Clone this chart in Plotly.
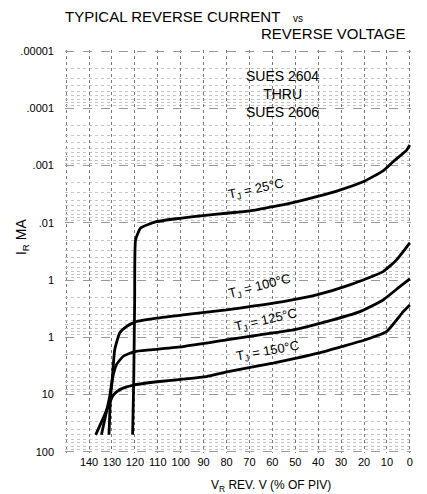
import plotly.graph_objects as go

# ---- data (x = reverse voltage, % of PIV; y = reverse current, mA)
x_25 = [121.0, 120.5, 120.1, 119.7, 117.5, 110.6, 100.4, 90.3, 80.1, 69.9, 59.7, 51.0, 40.7, 30.6, 20.4, 11.7, 7.3, 1.4, 0.0]
i_25 = [50, 5.5, 0.222, 0.0199, 0.0123, 0.00953, 0.00832, 0.00748, 0.00679, 0.00619, 0.00521, 0.00443, 0.00349, 0.00267, 0.00191, 0.00123, 0.000855, 0.000535, 0.000436]

x_100 = [131.3, 130.7, 129.8, 128.8, 126.6, 123.7, 119.7, 110.6, 99.0, 80.0, 69.9, 55.3, 40.7, 26.2, 11.7, 5.8, 0.0]
i_100 = [50.4, 12.3, 4.83, 1.65, 0.834, 0.649, 0.536, 0.462, 0.404, 0.331, 0.290, 0.237, 0.181, 0.121, 0.0711, 0.0443, 0.0224]

x_125 = [134.6, 131.0, 129.6, 128.1, 125.2, 120.1, 113.5, 99.0, 80.0, 65.5, 50.9, 36.4, 21.8, 11.7, 4.4, 0.0]
i_125 = [50.4, 10.8, 4.83, 3.02, 2.16, 1.77, 1.65, 1.45, 1.11, 0.903, 0.739, 0.530, 0.355, 0.222, 0.130, 0.0953]

x_150 = [137.1, 133.2, 129.6, 128.0, 125.2, 120.1, 109.2, 99.0, 88.8, 79.3, 69.1, 59.7, 49.5, 40.0, 29.8, 19.7, 10.2, 2.9, 0.0]
i_150 = [50.4, 22.5, 10.5, 8.93, 7.71, 6.75, 5.90, 5.36, 4.83, 3.95, 3.31, 2.82, 2.31, 1.89, 1.45, 1.11, 0.793, 0.355, 0.271]

x_ticks = [140, 130, 120, 110, 100, 90, 80, 70, 60, 50, 40, 30, 20, 10, 0]
y_ticks = [0.00001, 0.0001, 0.001, 0.01, 0.1, 1, 10, 100]
y_tick_text = [".00001", ".0001", ".001", ".01", "1", "1", "10", "100"]

curve_labels = ["T<sub>J</sub> = 25°C", "T<sub>J</sub> = 100°C", "T<sub>J</sub> = 125°C", "T<sub>J</sub> = 150°C"]

FONT = "Liberation Sans, Arial, sans-serif"

fig = go.Figure()
for xs, ys in [(x_25, i_25), (x_100, i_100), (x_125, i_125), (x_150, i_150)]:
    fig.add_trace(go.Scatter(x=xs, y=ys, mode="lines",
                             line=dict(color="black", width=2.8, shape="spline", smoothing=0.45),
                             showlegend=False, hoverinfo="skip"))

minor_vals = [m * 10 ** e for e in range(-5, 2) for m in range(2, 10)]

fig.update_layout(
    width=427, height=494,
    margin=dict(l=65, r=16, t=50, b=41),
    paper_bgcolor="white", plot_bgcolor="white",
    font=dict(family=FONT, color="black", size=12),
    xaxis=dict(range=[150.5, -0.5], tickvals=x_ticks, ticktext=[str(v) for v in x_ticks],
               showgrid=True, gridcolor="#777777", griddash="dot", gridwidth=1,
               zeroline=False, showline=False, ticks="", ticklabelstandoff=1,
               tickfont=dict(size=11, family=FONT, color="black"),
               minor=dict(dtick=10, tick0=0, showgrid=True, gridcolor="#777777", griddash="dot")),
    yaxis=dict(type="log", range=[2.02, -5.02], tickvals=y_ticks, ticktext=y_tick_text,
               showgrid=True, gridcolor="#999999", griddash="dash", gridwidth=1,
               zeroline=False, showline=False, ticks="", ticklabelstandoff=10,
               tickfont=dict(size=11, family=FONT, color="black"),
               minor=dict(tickvals=minor_vals, showgrid=True, gridcolor="#c4c4c4", griddash="dot")),
)

ann = [
    dict(text="TYPICAL REVERSE CURRENT", x=-0.006, y=1.084, xanchor="left", yanchor="middle", font=dict(size=15)),
    dict(text="vs", x=0.652, y=1.077, xanchor="left", yanchor="middle", font=dict(size=10)),
    dict(text="REVERSE VOLTAGE", x=0.991, y=1.040, xanchor="right", yanchor="middle", font=dict(size=15)),
    dict(text="SUES 2604<br>THRU<br>SUES 2606", x=0.630, y=0.891, xanchor="center", yanchor="middle", font=dict(size=14)),
    dict(text=curve_labels[0], x=0.552, y=0.653, textangle=-12, font=dict(size=13)),
    dict(text=curve_labels[1], x=0.564, y=0.412, textangle=-14, font=dict(size=13)),
    dict(text=curve_labels[2], x=0.581, y=0.330, textangle=-13, font=dict(size=13)),
    dict(text=curve_labels[3], x=0.587, y=0.251, textangle=-10, font=dict(size=13)),
    dict(text="V<sub>R</sub> REV. V (% OF PIV)", x=0.595, y=-0.082, xanchor="center", yanchor="middle", font=dict(size=12)),
    dict(text="I<sub>R</sub> MA", x=-0.124, y=0.536, textangle=-90, xanchor="center", yanchor="middle", font=dict(size=14)),
]
for a in ann:
    a.setdefault("xanchor", "center")
    a.setdefault("yanchor", "middle")
    fig.add_annotation(xref="paper", yref="paper", showarrow=False, bgcolor="rgba(0,0,0,0)", **a)

fig.write_html("out.html", config={"displayModeBar": False},
               post_script="document.body.style.margin='0';document.body.style.overflow='hidden';")
